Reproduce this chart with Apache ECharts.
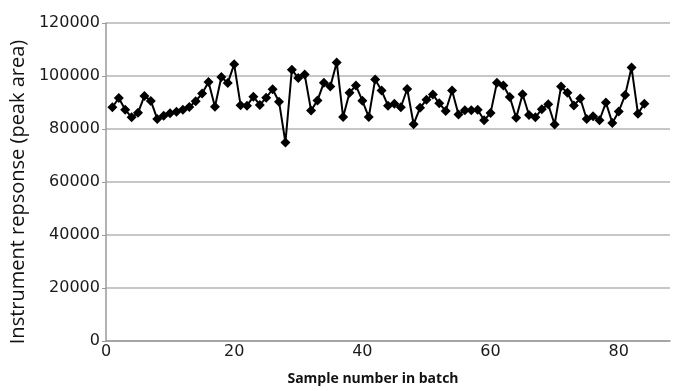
<!DOCTYPE html>
<html>
<head>
<meta charset="utf-8">
<script src="https://cdn.jsdelivr.net/npm/echarts@6/dist/echarts.min.js"></script>
<style>
	html, body { margin: 0; padding: 0; background: #fff; }
	#chart { width: 675px; height: 391px; }
</style>
</head>
<body>
<div id="chart"></div>
<script>
// sample number in batch (1..84)
var samples = [];
for (var n = 1; n <= 84; n++) samples.push(n);

// instrument response (peak area)
var response = [
	88200, 91700, 87300, 84400, 86100, 92500, 90600, 83800, 85000, 85900,
	86500, 87300, 88300, 90500, 93400, 97700, 88400, 99600, 97400, 104400,
	89000, 88800, 92200, 89100, 91800, 95000, 90300, 74900, 102400, 99200,
	100600, 87000, 90800, 97500, 96000, 105100, 84500, 93700, 96400, 90700,
	84500, 98700, 94500, 88800, 89500, 88200, 95100, 81800, 88000, 91000,
	93000, 89700, 86800, 94500, 85500, 87100, 87100, 87300, 83300, 86000,
	97500, 96400, 92100, 84200, 93100, 85300, 84400, 87500, 89300, 81700,
	96000, 93700, 88900, 91500, 83800, 84800, 83300, 90000, 82300, 86600,
	92800, 103200, 85800, 89500
];

var xTicks = [0, 20, 40, 60, 80];
var yTicks = [0, 20000, 40000, 60000, 80000, 100000, 120000];

var points = [];
for (var i = 0; i < samples.length; i++) {
	points.push([samples[i], response[i]]);
}

var chartObj = echarts.init(document.getElementById('chart'));

var option = {
	animation: false,
	textStyle: { fontFamily: 'DejaVu Sans' },
	grid: { left: 105, right: 5, top: 23, bottom: 47 },
	xAxis: {
		type: 'value',
		min: xTicks[0],
		max: 88,
		interval: 20,
		name: 'Sample number in batch',
		nameLocation: 'middle',
		nameGap: 31,
		nameTextStyle: { fontFamily: 'Open Sans', fontWeight: 'bold', fontSize: 14, color: '#111', padding: [0, 30, 0, 0] },
		axisLine: { lineStyle: { color: '#9a9a9a', width: 1.5 } },
		axisTick: { show: false },
		splitLine: { show: false },
		axisLabel: {
			color: '#1a1a1a', fontSize: 16, margin: 3, showMaxLabel: false,
			formatter: function (v) { return xTicks.indexOf(v) >= 0 ? String(v) : ''; }
		}
	},
	yAxis: {
		type: 'value',
		min: yTicks[0],
		max: yTicks[yTicks.length - 1],
		interval: 20000,
		name: 'Instrument repsonse (peak area)',
		nameLocation: 'middle',
		nameGap: 70,
		nameTextStyle: { fontFamily: 'Open Sans', fontWeight: 500, fontSize: 20, color: '#111', padding: [0, 0, 0, -20] },
		axisLine: { show: true, lineStyle: { color: '#9a9a9a', width: 1.5 } },
		axisTick: { show: true, length: 4, lineStyle: { color: '#9a9a9a' } },
		splitLine: { lineStyle: { color: '#b4b4b4', width: 1.5 } },
		axisLabel: {
			color: '#1a1a1a', fontSize: 16, margin: 6,
			formatter: function (v) { return String(v); }
		}
	},
	series: [{
		type: 'line',
		data: points,
		symbol: 'diamond',
		symbolSize: 10,
		showAllSymbol: true,
		lineStyle: { color: '#000', width: 2 },
		itemStyle: { color: '#000' }
	}]
};

chartObj.setOption(option);
</script>
</body>
</html>
